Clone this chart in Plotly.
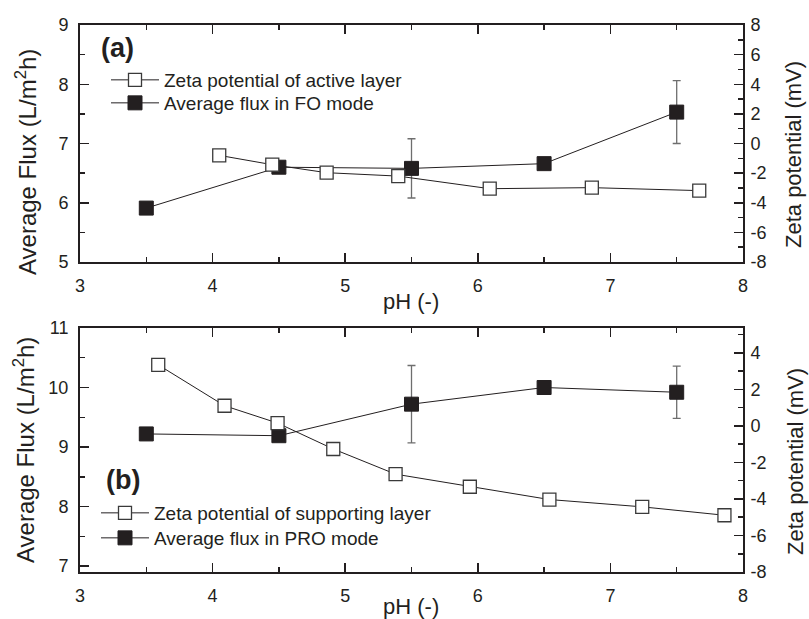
import plotly.graph_objects as go

# ---------------- data ----------------
# Panel (a): FO mode / active layer
ph_flux_a = [3.5, 4.5, 5.5, 6.5, 7.5]
flux_fo = [5.91, 6.60, 6.58, 6.66, 7.53]
flux_fo_err = [0.0, 0.0, 0.50, 0.0, 0.53]

ph_zeta_a = [4.05, 4.45, 4.86, 5.40, 6.09, 6.86, 7.67]
zeta_active = [-0.8, -1.43, -1.97, -2.2, -3.05, -2.98, -3.18]

# Panel (b): PRO mode / supporting layer
ph_flux_b = [3.5, 4.5, 5.5, 6.5, 7.5]
flux_pro = [9.22, 9.19, 9.72, 10.0, 9.92]
flux_pro_err = [0.0, 0.0, 0.65, 0.0, 0.44]

ph_zeta_b = [3.59, 4.09, 4.49, 4.91, 5.38, 5.94, 6.54, 7.24, 7.86]
zeta_support = [3.35, 1.11, 0.16, -1.26, -2.64, -3.33, -4.03, -4.43, -4.89]

# tick labels (hyphen minus, as in the reference)
zeta_ticks_a = [8, 6, 4, 2, 0, -2, -4, -6, -8]
zeta_ticks_b = [4, 2, 0, -2, -4, -6, -8]

# ---------------- style ----------------
INK = "#231f20"
FONT = "Liberation Sans, Arial, sans-serif"
LINE = dict(color=INK, width=1)
OPEN = dict(symbol="square", size=13, color="white", line=dict(color="#3a3a3a", width=1.3))
FILLED = dict(symbol="square", size=14, color=INK, line=dict(color=INK, width=1))
ERR_STYLE = dict(type="data", visible=True, color="#6e6e6e", thickness=1.3, width=4)

fig = go.Figure()

# panel (a)
fig.add_trace(go.Scatter(x=ph_zeta_a, y=zeta_active, mode="lines+markers",
                         name="Zeta potential of active layer", line=LINE, marker=OPEN,
                         xaxis="x", yaxis="y2", legend="legend"))
fig.add_trace(go.Scatter(x=ph_flux_a, y=flux_fo, mode="lines+markers",
                         name="Average flux in FO mode", line=LINE, marker=FILLED,
                         error_y=dict(array=flux_fo_err, **ERR_STYLE),
                         xaxis="x", yaxis="y", legend="legend2"))
# panel (b)
fig.add_trace(go.Scatter(x=ph_zeta_b, y=zeta_support, mode="lines+markers",
                         name="Zeta potential of supporting layer", line=LINE, marker=OPEN,
                         xaxis="x2", yaxis="y4", legend="legend3"))
fig.add_trace(go.Scatter(x=ph_flux_b, y=flux_pro, mode="lines+markers",
                         name="Average flux in PRO mode", line=LINE, marker=FILLED,
                         error_y=dict(array=flux_pro_err, **ERR_STYLE),
                         xaxis="x2", yaxis="y3", legend="legend4"))

tickfont = dict(family=FONT, size=18, color=INK)

def xax(anchor):
    return dict(domain=[0, 1], anchor=anchor, range=[3, 8], dtick=1, tick0=3,
                showline=True, linecolor=INK, linewidth=2, mirror="ticks",
                ticks="inside", ticklen=9, tickwidth=1.5, tickcolor=INK,
                minor=dict(ticks="inside", ticklen=5, dtick=0.5, tickwidth=1.5, tickcolor=INK),
                showgrid=False, zeroline=False, tickfont=tickfont,
                ticklabelstandoff=6)

def yleft(domain, rng, anchor, tick0):
    return dict(domain=domain, anchor=anchor, range=rng, dtick=1, tick0=tick0,
                showline=True, linecolor=INK, linewidth=2,
                ticks="inside", ticklen=9, tickwidth=1.5, tickcolor=INK,
                minor=dict(ticks="inside", ticklen=5, dtick=0.5, tickwidth=1.5, tickcolor=INK),
                showgrid=False, zeroline=False, tickfont=tickfont,
                ticklabelstandoff=6)

def yright(overlay, rng, anchor, ticks):
    return dict(overlaying=overlay, side="right", anchor=anchor, range=rng,
                tickmode="array", tickvals=ticks, ticktext=[str(t) for t in ticks],
                showline=True, linecolor=INK, linewidth=2,
                ticks="inside", ticklen=9, tickwidth=1.5, tickcolor=INK,
                minor=dict(ticks="inside", ticklen=5, dtick=1, tick0=0, tickwidth=1.5, tickcolor=INK),
                showgrid=False, zeroline=False, tickfont=tickfont,
                ticklabelstandoff=2)

legend_common = dict(bgcolor="rgba(0,0,0,0)", font=dict(family=FONT, size=19, color=INK),
                     itemwidth=48, xanchor="left", yanchor="top", itemclick=False)

# paper coords refer to the plot area (l=80, r=66, t=25, b=47)
def px2x(px):
    return (px - 80) / 663

def py2y(py):
    return 1 - (py - 25) / 547

def text_ann(text, px, py, size, angle=0, anchor="center"):
    return dict(text=text, x=px2x(px), y=py2y(py), xref="paper", yref="paper",
                xanchor=anchor, yanchor="middle", showarrow=False, textangle=angle,
                font=dict(family=FONT, size=size, color=INK))

annotations = [
    text_ann("<b>(a)</b>", 99, 48, 27, anchor="left"),
    text_ann("<b>(b)</b>", 104, 480, 27, anchor="left"),
    # axis titles
    text_ann("Average Flux (L/m<sup>2</sup>h)", 26, 162, 24, -90),
    text_ann("Average Flux (L/m<sup>2</sup>h)", 24, 450, 24, -90),
    text_ann("Zeta potential (mV)", 793, 155, 22, -90),
    text_ann("Zeta potential (mV)", 795, 462, 22, -90),
    text_ann("pH (-)", 411, 301, 22),
    text_ann("pH (-)", 411, 607, 22),
]

fig.update_layout(
    width=809, height=619,
    margin=dict(l=80, r=66, t=25, b=47),
    paper_bgcolor="white", plot_bgcolor="white",
    showlegend=True,
    xaxis=xax("y"),
    yaxis=yleft([0.5667, 1.0], [5, 9], "x", 5),
    yaxis2=yright("y", [-8, 8], "x", zeta_ticks_a),
    xaxis2=xax("y3"),
    yaxis3=yleft([0.0, 0.4461], [6.9, 11], "x2", 7),
    yaxis4=yright("y3", [-8, 5.37], "x2", zeta_ticks_b),
    legend=dict(x=px2x(106), y=py2y(61), **legend_common),
    legend2=dict(x=px2x(106), y=py2y(84), **legend_common),
    legend3=dict(x=px2x(96), y=py2y(494), **legend_common),
    legend4=dict(x=px2x(96), y=py2y(519), **legend_common),
    annotations=annotations,
)

fig.write_html("out.html",
               config={"displayModeBar": False, "staticPlot": True},
               post_script="document.body.style.margin='0';document.body.style.overflow='hidden';")
